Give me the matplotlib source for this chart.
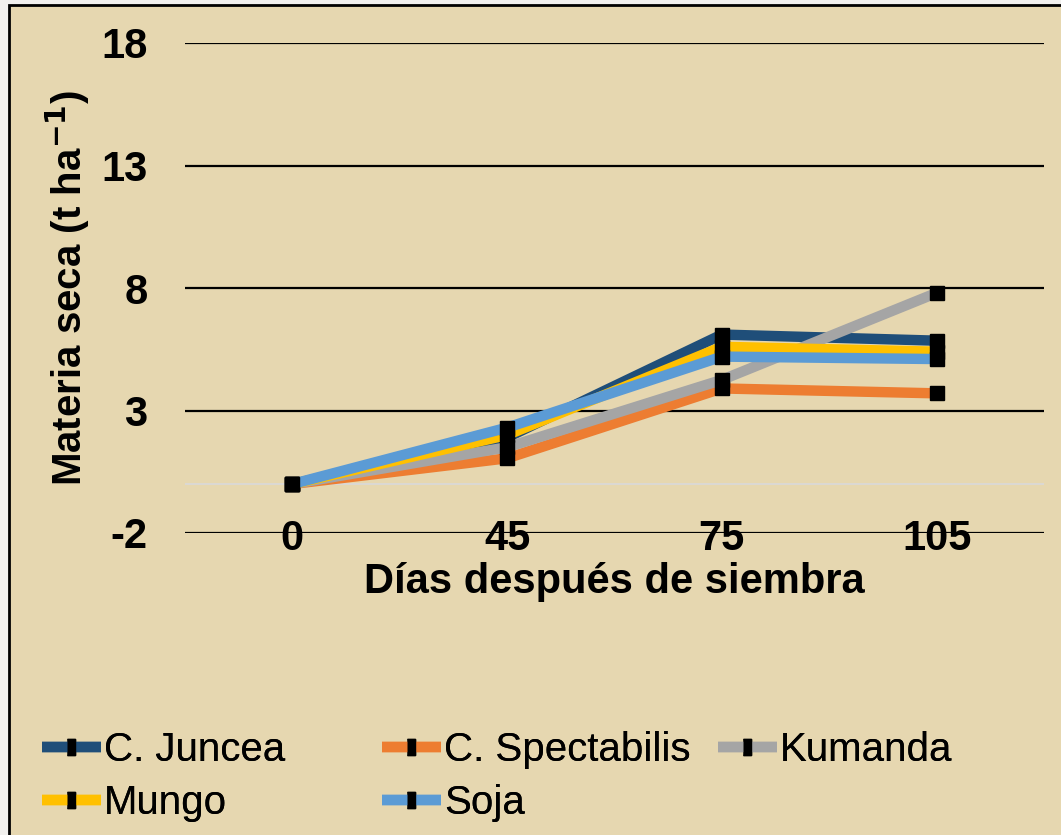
import matplotlib.pyplot as plt
from matplotlib.patches import Rectangle
from matplotlib.legend_handler import HandlerLine2D
from matplotlib import font_manager

days = ['0', '45', '75', '105']
series_names = ['C. Juncea', 'C. Spectabilis', 'Kumanda', 'Mungo', 'Soja']
juncea = [0.0, 1.9, 6.1, 5.85]
spectabilis = [0.0, 1.05, 3.9, 3.7]
kumanda = [0.0, 1.5, 4.25, 7.8]
mungo = [0.0, 2.0, 5.6, 5.4]
soja = [0.0, 2.3, 5.2, 5.1]
colors = ['#1F4E79', '#ED7D31', '#A5A5A5', '#FFC000', '#5B9BD5']
yticks = [-2, 3, 8, 13, 18]

BEIGE = '#E6D7B0'

names = {f.name for f in font_manager.fontManager.ttflist}
narrow = 'Liberation Sans Narrow' if 'Liberation Sans Narrow' in names else 'Liberation Sans'
plt.rcParams['font.family'] = ['Liberation Sans', 'DejaVu Sans']
plt.rcParams['axes.unicode_minus'] = False

fig = plt.figure(figsize=(10.61, 8.35), dpi=100)
fig.patch.set_facecolor('#F1F0EE')
fig.patches.append(Rectangle((9 / 1061, -0.01), 1.1, 1 - 5 / 835 + 0.01,
                             transform=fig.transFigure, facecolor=BEIGE,
                             edgecolor='black', lw=2, zorder=-10))

ax = fig.add_axes([185 / 1061, (835 - 533) / 835, (1044 - 185) / 1061, 490 / 835])
ax.set_facecolor('none')

x = range(len(days))
all_series = [juncea, spectabilis, kumanda, mungo, soja]
handles = []
for name, vals, c in zip(series_names, all_series, colors):
    h, = ax.plot(x, vals, color=c, lw=7.5, marker='s', ms=9.5,
                 mfc='black', mec='black', label=name, solid_capstyle='butt')
    handles.append(h)

ax.set_xlim(-0.5, 3.5)
ax.set_ylim(-2, 18)
ax.set_yticks(yticks)
for v in yticks:
    ax.axhline(v, color='black', lw=1.6, zorder=0)
ax.axhline(0, color='#D9D9D9', lw=1.2, zorder=0)

for s in ax.spines.values():
    s.set_visible(False)
ax.set_xticks(list(x))
ax.set_xticklabels(days)
ax.tick_params(axis='both', length=0, labelsize=30)
ax.tick_params(axis='y', pad=27)
ax.tick_params(axis='x', pad=-10)
for lbl in ax.get_xticklabels() + ax.get_yticklabels():
    lbl.set_fontweight('bold')

ax.set_xlabel('Días después de siembra', fontsize=30, fontweight='bold', labelpad=2)
fig.text(68 / 1061, 1 - 288 / 835, 'Materia seca (t ha$^{\\mathbf{-1}}$)', rotation=90,
         fontsize=29, fontweight='bold', ha='center', va='center')


def thin_marker(handle, orig):
    handle.update_from(orig)
    handle.set_marker([(-0.45, -1), (0.45, -1), (0.45, 1), (-0.45, 1)])
    handle.set_markersize(12)


hmap = {h: HandlerLine2D(update_func=thin_marker) for h in handles}
cols = [([handles[0], handles[3]], 22), ([handles[1], handles[4]], 362), ([handles[2]], 698)]
for hs, xpix in cols:
    leg = fig.legend(handles=hs, loc='upper left', handler_map=hmap,
                     bbox_to_anchor=(xpix / 1061, 1 - 711 / 835),
                     frameon=False, handlelength=1.45,
                     handletextpad=0.08, labelspacing=0.36, borderpad=0,
                     prop={'family': [narrow, 'DejaVu Sans'], 'size': 29})
    fig.add_artist(leg)

fig.savefig('out.png', dpi=100, facecolor=fig.get_facecolor())
